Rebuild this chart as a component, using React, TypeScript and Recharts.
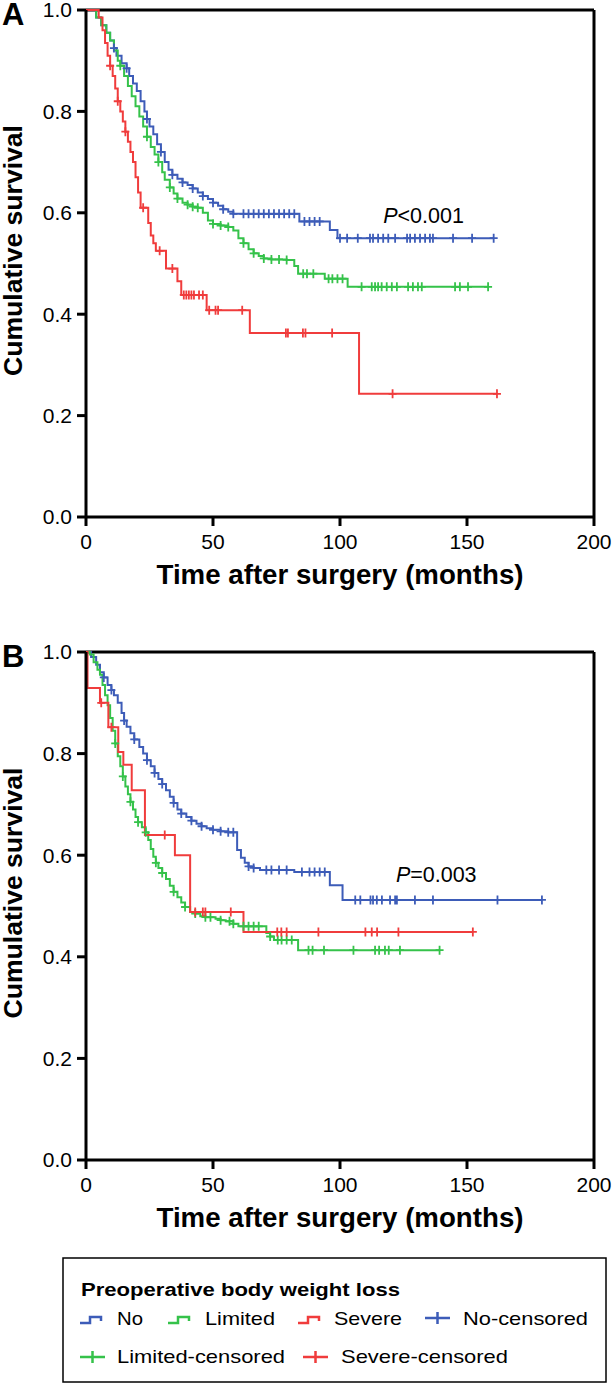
import React from "react";
import { ComposedChart, Line, XAxis, YAxis, ReferenceLine, ReferenceDot } from "recharts";

const FONT = "'Liberation Sans', Arial, Helvetica, sans-serif";

// [months, survival, censored?]
type Pt = [number, number, number?];

const X_TICKS = [0, 50, 100, 150, 200];
const Y_TICKS = [0, 0.2, 0.4, 0.6, 0.8, 1.0];

const BLUE = "#3d5cb8";
const GREEN = "#35c24a";
const RED = "#f03c3c";

// ---- panel A ----
const A_NO: Pt[] = [
  [0, 1], [4, 0.985], [6, 0.97], [8, 0.955], [9.5, 0.94], [11, 0.925, 1], [12, 0.91], [14, 0.895],
  [16, 0.885, 1], [17, 0.87], [18.5, 0.855], [20, 0.84], [21.5, 0.82], [23, 0.8], [24, 0.785, 1],
  [25, 0.77], [26.5, 0.755], [28, 0.735], [29.5, 0.72, 1], [31, 0.7], [32.5, 0.685], [34, 0.675, 1],
  [36, 0.667], [38, 0.66, 1], [40, 0.655], [42, 0.648, 1], [44, 0.64], [46, 0.633, 1], [48, 0.627],
  [50, 0.62, 1], [52, 0.614], [54, 0.607, 1], [56, 0.602], [58, 0.598, 1], [62, 0.598, 1],
  [64, 0.598, 1], [66, 0.598, 1], [68, 0.598, 1], [70, 0.598, 1], [72, 0.598, 1], [74, 0.598, 1],
  [76, 0.598, 1], [78, 0.598, 1], [80, 0.598, 1], [82, 0.598, 1], [84, 0.583], [86, 0.583, 1],
  [88, 0.583, 1], [90, 0.583, 1], [92, 0.583, 1], [96, 0.566], [99, 0.55], [100, 0.55, 1],
  [102.8, 0.55, 1], [107, 0.55, 1], [111.8, 0.55, 1], [113, 0.55, 1], [115, 0.55, 1], [117, 0.55, 1],
  [119, 0.55, 1], [121.7, 0.55, 1], [126.4, 0.55, 1], [127.6, 0.55, 1], [129.5, 0.55, 1],
  [131.5, 0.55, 1], [133.5, 0.55, 1], [135.4, 0.55, 1], [136.6, 0.55, 1], [144.5, 0.55, 1],
  [152, 0.55, 1], [160.5, 0.55, 1],
];

const A_LIM: Pt[] = [
  [0, 1], [4, 0.985], [6, 0.97], [8, 0.955], [9.5, 0.94], [11, 0.92], [12.5, 0.9], [13.5, 0.89, 1],
  [15, 0.87], [16.5, 0.85], [18, 0.83], [19.5, 0.81], [21, 0.79], [22.5, 0.77], [24, 0.75, 1],
  [25.5, 0.73], [27, 0.715], [28.5, 0.7, 1], [30, 0.68], [31, 0.665], [33, 0.65, 1], [34.5, 0.638],
  [36, 0.628, 1], [38, 0.62], [40, 0.616, 1], [42, 0.612, 1], [44, 0.61, 1], [46, 0.6], [48, 0.585],
  [50, 0.578, 1], [53, 0.575, 1], [56, 0.572, 1], [58, 0.565], [60, 0.55], [62, 0.54, 1], [64, 0.528],
  [66, 0.52, 1], [68, 0.515], [70, 0.51, 1], [73, 0.508, 1], [76, 0.508, 1], [79, 0.507, 1],
  [82, 0.495], [83.5, 0.48], [85.5, 0.48, 1], [87, 0.48, 1], [89.5, 0.48, 1], [94, 0.47],
  [95.5, 0.47, 1], [97, 0.47, 1], [99, 0.47, 1], [101, 0.47, 1], [103, 0.454], [108.5, 0.454, 1],
  [112.5, 0.454, 1], [113.8, 0.454, 1], [115, 0.454, 1], [116.4, 0.454, 1], [118.4, 0.454, 1],
  [120.4, 0.454, 1], [122.4, 0.454, 1], [126.8, 0.454, 1], [128.7, 0.454, 1], [130.7, 0.454, 1],
  [132.2, 0.454, 1], [145.3, 0.454, 1], [147.2, 0.454, 1], [150.4, 0.454, 1], [158.3, 0.454, 1],
];

const A_SEV: Pt[] = [
  [0, 1], [5, 0.985], [6.5, 0.96], [7.5, 0.935], [8.5, 0.91], [9.5, 0.89, 1], [10.5, 0.87],
  [11.5, 0.845], [12.5, 0.82, 1], [13.5, 0.8], [14.5, 0.78], [15.5, 0.76, 1], [16.5, 0.74],
  [17.5, 0.72], [18.5, 0.7], [19.5, 0.67], [20.5, 0.64], [21.5, 0.61], [22.5, 0.61, 1], [24.5, 0.58],
  [25.5, 0.555], [26.5, 0.54], [27.5, 0.525], [29, 0.525, 1], [31.5, 0.49], [34, 0.49, 1],
  [36, 0.465], [37.5, 0.438], [38.5, 0.438, 1], [39.5, 0.438, 1], [40.5, 0.438, 1], [41.5, 0.438, 1],
  [42.5, 0.438, 1], [44.5, 0.438, 1], [46, 0.438, 1], [47.5, 0.408], [48.5, 0.408, 1], [51, 0.408, 1],
  [52, 0.408, 1], [61.5, 0.408, 1], [64.5, 0.363], [78.7, 0.363, 1], [79.5, 0.363, 1], [85.4, 0.363, 1],
  [86.4, 0.363, 1], [96.9, 0.363, 1], [107.5, 0.243], [120.7, 0.243, 1], [161.8, 0.243, 1],
];

// ---- panel B ----
const B_NO: Pt[] = [
  [0, 1], [2, 0.99], [4, 0.975], [5.5, 0.96], [7, 0.95, 1], [8.5, 0.935], [10, 0.925, 1], [11, 0.915],
  [12.5, 0.9], [14, 0.88], [15, 0.865, 1], [16, 0.853], [17.5, 0.84], [19, 0.828, 1], [21, 0.813],
  [22.5, 0.8], [24, 0.787, 1], [25.5, 0.775], [27, 0.762, 1], [28.5, 0.75], [30, 0.74, 1],
  [31.5, 0.728], [33, 0.715], [34.5, 0.703, 1], [36, 0.69], [37.5, 0.682, 1], [39.5, 0.675],
  [41.5, 0.668, 1], [43.5, 0.662], [45.5, 0.657, 1], [47.5, 0.653], [50, 0.65, 1], [53, 0.647, 1],
  [56, 0.645, 1], [58, 0.645, 1], [59.5, 0.61], [61, 0.595], [62.5, 0.585], [64, 0.578, 1],
  [66, 0.575, 1], [68.5, 0.571], [71, 0.571, 1], [73, 0.571, 1], [76, 0.571, 1], [79, 0.571, 1],
  [82, 0.567], [85, 0.567, 1], [88, 0.567, 1], [90, 0.567, 1], [92, 0.567, 1], [94, 0.567, 1],
  [96, 0.541], [101, 0.512], [106, 0.512, 1], [108, 0.512, 1], [112, 0.512, 1], [113, 0.512, 1],
  [114.5, 0.512, 1], [116.5, 0.512, 1], [119.7, 0.512, 1], [121.7, 0.512, 1], [122.4, 0.512, 1],
  [129.5, 0.512, 1], [136.6, 0.512, 1], [162, 0.512, 1], [179.5, 0.512, 1],
];

const B_LIM: Pt[] = [
  [0, 1], [1.5, 0.995], [3, 0.98], [4.5, 0.965], [5.5, 0.955], [6.5, 0.935], [7.5, 0.915],
  [8.5, 0.895], [9.5, 0.87], [10.5, 0.845], [11.5, 0.82, 1], [12.5, 0.795], [13.5, 0.775],
  [14.5, 0.755, 1], [15.5, 0.735], [16.5, 0.72], [17.5, 0.705, 1], [18.5, 0.69], [19.5, 0.675],
  [20.5, 0.665, 1], [22, 0.655], [23.5, 0.645, 1], [24.5, 0.63], [25.5, 0.612], [26.5, 0.597],
  [27.5, 0.585, 1], [28.5, 0.575], [30, 0.565, 1], [31.5, 0.553], [33, 0.54], [34.5, 0.528, 1],
  [36, 0.517], [37.5, 0.507], [39, 0.498, 1], [41, 0.488], [43, 0.485, 1], [45, 0.48], [47, 0.478, 1],
  [49, 0.478, 1], [51, 0.475], [53, 0.472, 1], [55, 0.47], [56.5, 0.47, 1], [58, 0.465, 1], [60, 0.46],
  [62, 0.46, 1], [64, 0.46, 1], [66, 0.46, 1], [68, 0.46, 1], [71, 0.447], [72.5, 0.44, 1],
  [74, 0.433], [75.5, 0.433, 1], [77, 0.433, 1], [79, 0.433, 1], [81, 0.433, 1], [83.5, 0.413],
  [87.6, 0.413, 1], [89.2, 0.413, 1], [93.7, 0.413, 1], [105.3, 0.413, 1], [113.8, 0.413, 1],
  [115.4, 0.413, 1], [117.7, 0.413, 1], [119.2, 0.413, 1], [123.6, 0.413, 1], [139.2, 0.413, 1],
];

const B_SEV: Pt[] = [
  [0, 1], [0.6, 0.929], [5.5, 0.9], [6, 0.9, 1], [8.8, 0.852], [10, 0.852, 1], [12.7, 0.803],
  [14.7, 0.778], [18, 0.728], [23.2, 0.64], [31, 0.64, 1], [35, 0.6], [41, 0.488], [43, 0.488, 1],
  [46, 0.488, 1], [47, 0.488, 1], [57, 0.488, 1], [62, 0.449], [75.3, 0.449, 1], [76.9, 0.449, 1],
  [79, 0.449, 1], [91.5, 0.449, 1], [110, 0.449, 1], [112.5, 0.449, 1], [114.6, 0.449, 1],
  [123, 0.449, 1], [152.3, 0.449, 1],
];

const rows = (pts: Pt[]) => pts.map(([t, s, c]) => ({ t, s, c: !!c }));

const censorDot = (color: string) => (props: any) => {
  const { cx, cy, payload, index } = props;
  if (!payload || !payload.c || cx == null || cy == null) return <g key={`n${index}`} />;
  return (
    <path
      key={`c${index}`}
      d={`M${cx - 4},${cy}H${cx + 4}M${cx},${cy - 4.5}V${cy + 4.5}`}
      stroke={color}
      strokeWidth={1.8}
      fill="none"
    />
  );
};

interface Series { name: string; color: string; pts: Pt[] }

function Panel({ series, top, height, pLabel, pAt }: {
  series: Series[]; top: number; height: number; pLabel: string; pAt: [number, number];
}) {
  const tickStyle = { fill: "#000", fontSize: 21, fontFamily: FONT };
  return (
    <div style={{ position: "absolute", left: 0, top }}>
      <ComposedChart width={613} height={height} margin={{ top: 10, right: 19, bottom: 0, left: 26 }}>
        <XAxis
          type="number" dataKey="t" domain={[0, 200]} ticks={X_TICKS} interval={0} height={73}
          axisLine={{ stroke: "#000", strokeWidth: 3 }} tickLine={{ stroke: "#000", strokeWidth: 3 }}
          tickSize={9} tickMargin={8} tick={tickStyle}
          label={{
            content: (p: any) => {
              const vb = p.viewBox || { x: 86, y: 517, width: 508 };
              return (
                <text x={vb.x + vb.width / 2} y={vb.y + 67} textAnchor="middle" fontFamily={FONT}
                  fontWeight="bold" fontSize={27} textLength={367} lengthAdjust="spacingAndGlyphs" fill="#000">
                  Time after surgery (months)
                </text>
              );
            },
          }}
        />
        <YAxis
          type="number" dataKey="s" domain={[0, 1]} ticks={Y_TICKS} interval={0} width={60}
          axisLine={{ stroke: "#000", strokeWidth: 3 }} tickLine={{ stroke: "#000", strokeWidth: 3 }}
          tickSize={9} tickMargin={5} tick={tickStyle} tickFormatter={(v: number) => v.toFixed(1)}
          label={{
            content: (p: any) => {
              const vb = p.viewBox || { x: 26, y: 10, height: 507 };
              const cy = vb.y + vb.height / 2 - 13;
              return (
                <text x={22} y={cy} transform={`rotate(-90 22 ${cy})`} textAnchor="middle" fontFamily={FONT}
                  fontWeight="bold" fontSize={25} textLength={251} lengthAdjust="spacingAndGlyphs" fill="#000">
                  Cumulative survival
                </text>
              );
            },
          }}
        />
        <ReferenceLine y={1} stroke="#000" strokeWidth={3} />
        <ReferenceLine x={200} stroke="#000" strokeWidth={3} />
        {series.map((s) => (
          <Line
            key={s.name}
            data={rows(s.pts)}
            dataKey="s"
            name={s.name}
            type="stepAfter"
            stroke={s.color}
            strokeWidth={2}
            dot={censorDot(s.color)}
            activeDot={false}
            isAnimationActive={false}
          />
        ))}
        <ReferenceDot
          x={pAt[0]} y={pAt[1]} r={0} fill="none" stroke="none"
          label={{
            content: (p: any) => {
              const vb = p.viewBox || { x: 0, y: 0 };
              return (
                <text x={vb.x} y={vb.y} fontFamily={FONT} fontSize={21.5} fill="#000">
                  <tspan fontStyle="italic">P</tspan>{pLabel}
                </text>
              );
            },
          }}
        />
      </ComposedChart>
    </div>
  );
}

const SERIES_A: Series[] = [
  { name: "No", color: BLUE, pts: A_NO },
  { name: "Limited", color: GREEN, pts: A_LIM },
  { name: "Severe", color: RED, pts: A_SEV },
];
const SERIES_B: Series[] = [
  { name: "No", color: BLUE, pts: B_NO },
  { name: "Limited", color: GREEN, pts: B_LIM },
  { name: "Severe", color: RED, pts: B_SEV },
];

const stepIcon = (x: number, y: number, color: string) => (
  <path d={`M${x},${y + 3}H${x + 10}V${y - 3}H${x + 21}V${y + 1}`} stroke={color} strokeWidth={2.5} fill="none" />
);
const plusIcon = (x: number, y: number, color: string) => (
  <path d={`M${x},${y}H${x + 25}M${x + 12.5},${y - 6}V${y + 6}`} stroke={color} strokeWidth={2.5} fill="none" />
);

function Overlay() {
  const t = (x: number, y: number, s: string, len: number) => (
    <text x={x} y={y} fontFamily={FONT} fontSize={19} textLength={len} lengthAdjust="spacingAndGlyphs" fill="#000">
      {s}
    </text>
  );
  return (
    <svg width={613} height={1385} style={{ position: "absolute", left: 0, top: 0, pointerEvents: "none" }}>
      <text x={2} y={25} fontFamily={FONT} fontWeight="bold" fontSize={31} fill="#000">A</text>
      <text x={2} y={667} fontFamily={FONT} fontWeight="bold" fontSize={31} fill="#000">B</text>
      <rect x={63} y={1258} width={543} height={124} fill="none" stroke="#000" strokeWidth={1.5} />
      <text x={81} y={1296} fontFamily={FONT} fontWeight="bold" fontSize={18} textLength={319}
        lengthAdjust="spacingAndGlyphs" fill="#000">
        Preoperative body weight loss
      </text>
      {stepIcon(80, 1320, BLUE)}
      {t(117, 1325, "No", 26)}
      {stepIcon(168, 1320, GREEN)}
      {t(205, 1325, "Limited", 70)}
      {stepIcon(298, 1320, RED)}
      {t(334, 1325, "Severe", 68)}
      {plusIcon(425, 1318, BLUE)}
      {t(463, 1325, "No-censored", 125)}
      {plusIcon(80, 1357, GREEN)}
      {t(117, 1363, "Limited-censored", 168)}
      {plusIcon(303, 1357, RED)}
      {t(341, 1363, "Severe-censored", 167)}
    </svg>
  );
}

export default function App() {
  return (
    <div style={{ position: "absolute", left: 0, top: 0, width: 613, height: 1385, background: "#fff" }}>
      <Panel series={SERIES_A} top={0} height={590} pLabel="<0.001" pAt={[117, 0.58]} />
      <Panel series={SERIES_B} top={642} height={591} pLabel="=0.003" pAt={[122, 0.547]} />
      <Overlay />
    </div>
  );
}
